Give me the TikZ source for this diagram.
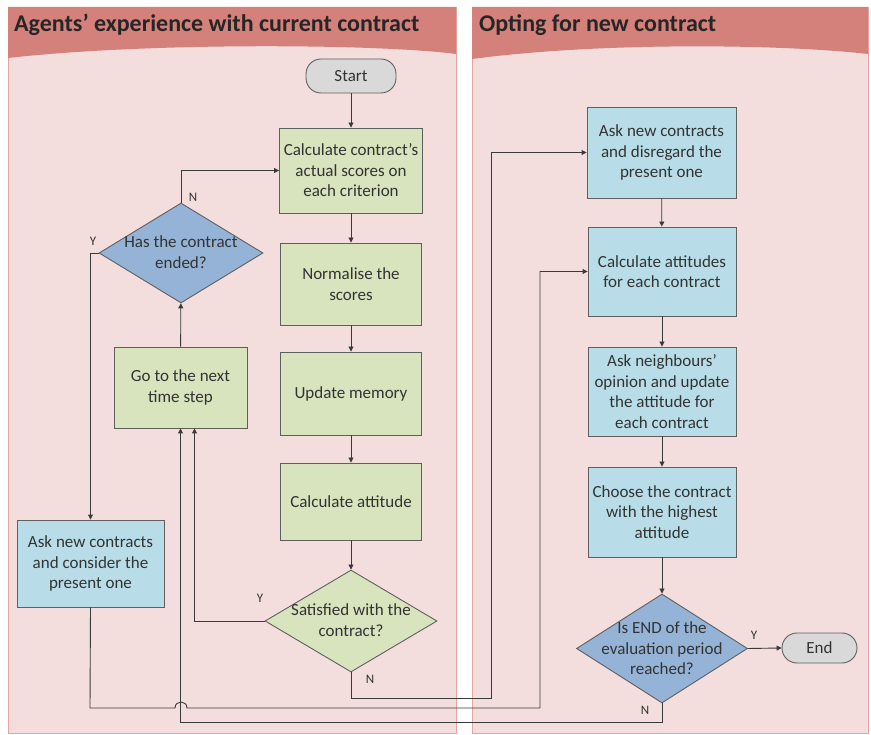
\documentclass[tikz,border=0pt]{standalone}
\usepackage{fontspec}
\setmainfont{Carlito}
\usetikzlibrary{shapes.geometric,arrows.meta}
\definecolor{hdr}{HTML}{D4807B}
\definecolor{body}{HTML}{F3DEDD}
\definecolor{pborder}{HTML}{E6A5A2}
\definecolor{gfill}{HTML}{D7E4BD}
\definecolor{bfill}{HTML}{B8DDE8}
\definecolor{dfill}{HTML}{95B3D7}
\definecolor{pfill}{HTML}{D9D9D9}
\definecolor{edge}{HTML}{5F5F5F}
\definecolor{txt}{HTML}{333333}
\definecolor{wire}{HTML}{3A3A3A}
\tikzset{
  box/.style={rectangle, draw=edge, line width=0.9pt, inner sep=0pt, align=center,
    text=txt, font=\fontsize{17}{20.5}\selectfont},
  gbox/.style={box, fill=gfill},
  bbox/.style={box, fill=bfill},
  pill/.style={box, fill=pfill, rounded corners=15pt},
  dia/.style={diamond, draw=edge, line width=0.9pt, inner sep=0pt},
  gdia/.style={dia, fill=gfill},
  bdia/.style={dia, fill=dfill},
  dtext/.style={align=center, text=txt, inner sep=0pt, font=\fontsize{17}{20.5}\selectfont},
  yn/.style={text=txt, inner sep=0pt, font=\fontsize{13}{15}\selectfont},
  conn/.style={draw=wire, line width=0.9pt, -{Triangle[length=5pt,width=5pt]}},
  plain/.style={draw=wire, line width=0.9pt},
  htitle/.style={anchor=west, inner sep=0pt, font=\fontsize{24}{28}\selectfont\bfseries, text=black!85}
}
\begin{document}
\begin{tikzpicture}[x=1pt,y=-1pt]
\useasboundingbox (0,0) rectangle (871,735);
% panels
\fill[white] (0,0) rectangle (871,735);
\filldraw[fill=body, draw=pborder, line width=0.8pt] (8,7) rectangle (456,733);
\fill[hdr] (8,7) -- (456,7) -- (456,54) .. controls (380,44) and (150,42) .. (8,58) -- cycle;
\filldraw[fill=body, draw=pborder, line width=0.8pt] (472,7) rectangle (868,733);
\fill[hdr] (472,7) -- (868,7) -- (868,54) .. controls (780,44) and (600,42) .. (472,59) -- cycle;
\node[htitle] (t1) at (14,25) {Agents’ experience with current contract};
\node[htitle] (t2) at (479,25) {Opting for new contract};

% left lane nodes
\node[pill, minimum width=90pt, minimum height=34pt] (start) at (351,76) {Start};
\node[gbox, minimum width=143pt, minimum height=85pt] (calc) at (351,170.5) {Calculate contract’s\\actual scores on\\each criterion};
\node[gbox, minimum width=141pt, minimum height=82pt] (norm) at (351,284) {Normalise the\\scores};
\node[gbox, minimum width=141pt, minimum height=83pt] (upd) at (351,393.5) {Update memory};
\node[gbox, minimum width=141pt, minimum height=77pt] (catt) at (351,501.5) {Calculate attitude};
\node[gdia, minimum width=172pt, minimum height=102pt] (sat) at (351,621) {};
\node[dtext] (sattxt) at (351,620) {Satisfied with the\\contract?};
\node[bdia, minimum width=164pt, minimum height=100pt] (has) at (181,253) {};
\node[dtext] (hastxt) at (181,252) {Has the contract\\ended?};
\node[gbox, minimum width=133pt, minimum height=81pt] (next) at (180.5,387.5) {Go to the next\\time step};
\node[bbox, minimum width=147pt, minimum height=87pt] (cons) at (90.5,563.5) {Ask new contracts\\and consider the\\present one};

% right lane nodes
\node[bbox, minimum width=149pt, minimum height=91pt] (disr) at (661.5,152.5) {Ask new contracts\\and disregard the\\present one};
\node[bbox, minimum width=148pt, minimum height=89pt] (cat) at (662,271.5) {Calculate attitudes\\for each contract};
\node[bbox, minimum width=148pt, minimum height=89pt] (nb) at (662,391.5) {Ask neighbours’\\opinion and update\\the attitude for\\each contract};
\node[bbox, minimum width=148pt, minimum height=90pt] (cho) at (662,512) {Choose the contract\\with the highest\\attitude};
\node[bdia, minimum width=171pt, minimum height=109pt] (endq) at (662,648.5) {};
\node[dtext] (endqtxt) at (662,648.5) {Is END of the\\evaluation period\\reached?};
\node[pill, minimum width=75pt, minimum height=30pt] (end) at (819.5,648) {End};

% main flow
\draw[conn] (start) -- (calc);
\draw[conn] (calc) -- (norm);
\draw[conn] (norm) -- (upd);
\draw[conn] (upd) -- (catt);
\draw[conn] (catt) -- (sat);
\draw[conn] (next) -- (has);
\draw[conn] (has.north) |- (calc.west);
\draw[conn] (has.west) -| (cons.north);
\draw[conn] (sat.west) -| ([xshift=14pt]next.south);
\draw[conn] (sat.south) -- (351,698) -- (491,698) |- (disr.west);
\draw[conn] (cons.south) -- (90,708) -- (175,708) .. controls (175,700) and (187,700) .. (187,708) -- (540,708) |- (cat.west);
\draw[conn] (endq.south) -- (662,722) -| (next.south);
\draw[conn] (disr) -- (cat);
\draw[conn] (cat) -- (nb);
\draw[conn] (nb) -- (cho);
\draw[conn] (cho) -- (endq);
\draw[conn] (endq.east) -- (end.west);

% labels
\node[yn] (ly1) at (260,598) {Y};
\node[yn] (ln1) at (370,679) {N};
\node[yn] (ln2) at (193,197) {N};
\node[yn] (ly2) at (93,241) {Y};
\node[yn] (ly3) at (754,635) {Y};
\node[yn] (ln3) at (645,710) {N};
\end{tikzpicture}
\end{document}
